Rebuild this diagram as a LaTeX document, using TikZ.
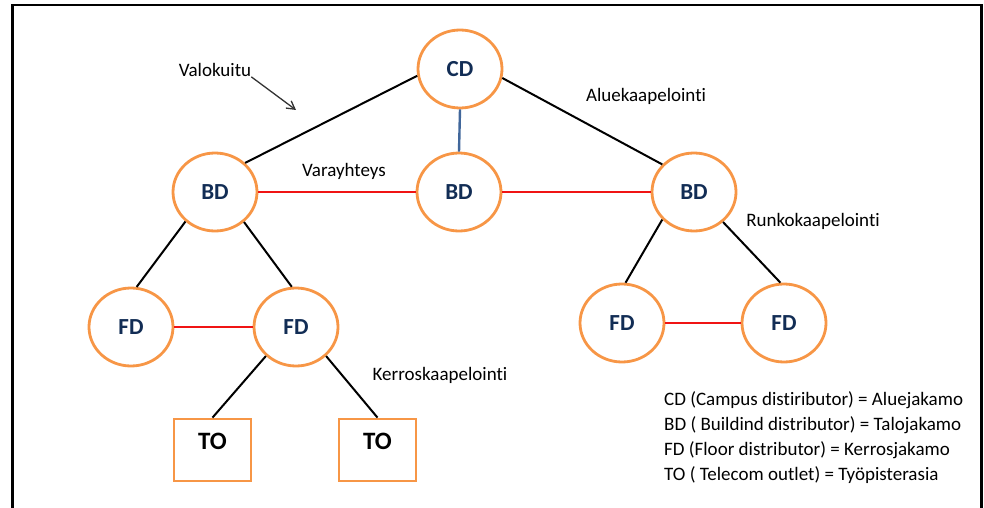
\documentclass[tikz,border=0pt]{standalone}
\usepackage{fontspec}
\setmainfont{Carlito}[Ligatures=NoCommon]
\usetikzlibrary{shapes.geometric,arrows.meta}
\definecolor{orng}{RGB}{247,150,70}
\definecolor{navy}{RGB}{18,45,85}
\definecolor{steel}{RGB}{65,103,155}
\definecolor{redl}{RGB}{240,20,20}
\begin{document}
\begin{tikzpicture}[x=1pt,y=-1pt,
  dist/.style={ellipse,draw=orng,line width=2.8pt,fill=white,minimum width=84pt,minimum height=78pt,inner sep=0pt,
    font=\fontsize{23}{26}\selectfont\bfseries,text=navy},
  tobox/.style={rectangle,draw=orng,line width=2.8pt,fill=white,minimum width=77pt,minimum height=62pt,inner sep=0pt,
    font=\fontsize{25}{29}\selectfont\bfseries,text=black,text height=16pt,text depth=18pt},
  lbl/.style={font=\fontsize{19}{23}\selectfont,text=black,inner sep=0pt},
  blk/.style={draw=black,line width=2pt},
  redc/.style={draw=redl,line width=2pt},
  bluec/.style={draw=steel,line width=2.4pt}]
\useasboundingbox (0,0) rectangle (984,508);
\draw[line width=2.6pt] (12.5,508) -- (12.5,5) -- (981.5,5) -- (981.5,508);

% nodes
\node[dist] (CD) at (460,69) {CD};
\node[dist] (BD1) at (215,192) {BD};
\node[dist] (BD2) at (459,192) {BD};
\node[dist] (BD3) at (694,192) {BD};
\node[dist] (FD1) at (131,327) {FD};
\node[dist] (FD2) at (296,327) {FD};
\node[dist] (FD3) at (622,323) {FD};
\node[dist] (FD4) at (784,323) {FD};
\node[tobox] (TO1) at (212.5,450) {TO};
\node[tobox] (TO2) at (377.5,450) {TO};

% connectors
\draw[blk] (CD.189) -- (BD1.44);
\draw[blk] (CD.348) -- (BD3.139);
\draw[bluec] (CD.south) -- (BD2.north);
\draw[redc] (BD1.east) -- (BD2.west);
\draw[redc] (BD2.east) -- (BD3.west);
\draw[blk] (BD1.225) -- (FD1.82);
\draw[blk] (BD1.314) -- (FD2.96);
\draw[redc] (FD1.east) -- (FD2.west);
\draw[blk] (FD2.224) -- (TO1.north);
\draw[blk] (FD2.316) -- (TO2.north);
\draw[blk] (BD3.221) -- (FD3.85);
\draw[blk] (BD3.314) -- (FD4.95);
\draw[redc] (FD3.east) -- (FD4.west);

% labels
\node[lbl] (val) at (215,70) {Valokuitu};
\coordinate (valend) at (296,110);
\draw[draw=black!80,line width=1.3pt,-{Straight Barb[length=8pt,width=9pt]}] (val.south east) -- (valend);
\node[lbl] (alue) at (646,96) {Aluekaapelointi};
\node[lbl] (vara) at (344,171) {Varayhteys};
\node[lbl] (runko) at (813,221) {Runkokaapelointi};
\node[lbl] (kerros) at (440,375) {Kerroskaapelointi};

\node[lbl,anchor=west] (l1) at (664,400) {CD (Campus distiributor) = Aluejakamo};
\node[lbl,anchor=west] (l2) at (664,425) {BD ( Buildind distributor) = Talojakamo};
\node[lbl,anchor=west] (l3) at (664,450) {FD (Floor distributor) = Kerrosjakamo};
\node[lbl,anchor=west] (l4) at (664,475) {TO ( Telecom outlet) = Työpisterasia};
\end{tikzpicture}
\end{document}
